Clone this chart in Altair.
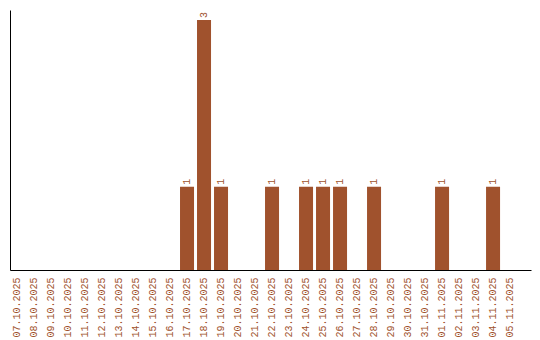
import altair as alt
import pandas as pd

dates = ["07.10.2025", "08.10.2025", "09.10.2025", "10.10.2025", "11.10.2025",
         "12.10.2025", "13.10.2025", "14.10.2025", "15.10.2025", "16.10.2025",
         "17.10.2025", "18.10.2025", "19.10.2025", "20.10.2025", "21.10.2025",
         "22.10.2025", "23.10.2025", "24.10.2025", "25.10.2025", "26.10.2025",
         "27.10.2025", "28.10.2025", "29.10.2025", "30.10.2025", "31.10.2025",
         "01.11.2025", "02.11.2025", "03.11.2025", "04.11.2025", "05.11.2025"]
counts = [0, 0, 0, 0, 0, 0, 0, 0, 0, 0,
          1, 3, 1, 0, 0, 1, 0, 1, 1, 1,
          0, 1, 0, 0, 0, 1, 0, 0, 1, 0]

df = pd.DataFrame({"date": dates, "count": counts})

COLOR = "#a0522d"
FONT = "Liberation Mono"

x = alt.X("date:N", sort=dates,
          scale=alt.Scale(paddingInner=0.176, paddingOuter=0.41, align=0),
          axis=alt.Axis(title=None, labelAngle=-90, labelColor=COLOR, labelFont=FONT,
                        labelFontSize=10, labelPadding=7, ticks=False, domainColor="black",
                        labelOverlap=False, grid=False))
y = alt.Y("count:Q", scale=alt.Scale(domain=[0, 3.12], nice=False),
          axis=alt.Axis(title=None, labels=False, ticks=False, grid=False, domainColor="black"))

base = alt.Chart(df)
bars = base.mark_bar(color=COLOR).encode(x=x, y=y)
text = base.transform_filter("datum.count > 0").mark_text(
    angle=270, align="left", baseline="middle", dx=2, font=FONT, fontSize=10, color=COLOR
).encode(x=x, y=y, text="count:Q")

chart = (bars + text).properties(
    width=521, height=260,
    autosize=alt.AutoSizeParams(type="none"),
    padding={"left": 10, "top": 10, "right": 9, "bottom": 70},
).configure_view(stroke=None)

chart.save("out.html", embed_options={"renderer": "svg", "actions": False})
